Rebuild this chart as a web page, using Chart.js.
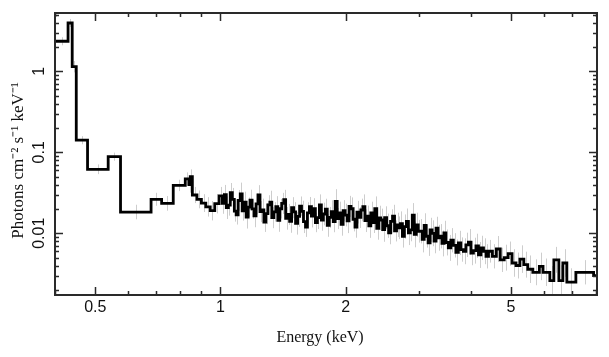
<!DOCTYPE html>
<html><head><meta charset="utf-8">
<script src="https://cdn.jsdelivr.net/npm/chart.js@4/dist/chart.umd.min.js"></script>
<style>html,body{margin:0;padding:0;background:#fff}</style>
</head><body>
<canvas id="c" width="609" height="357"></canvas>
<script>
// Bin edges in keV (lower edge of each bin, plus the final upper edge)
const binEdges = [
  0.400, 0.430, 0.440, 0.450, 0.479, 0.537, 0.575, 0.681, 0.722, 0.770,
  0.823, 0.840, 0.846, 0.856, 0.878, 0.900, 0.922, 0.945, 0.969, 0.993,
  1.011, 1.022, 1.033, 1.045, 1.056, 1.068, 1.080, 1.091, 1.103, 1.116,
  1.128, 1.140, 1.153, 1.166, 1.178, 1.191, 1.204, 1.218, 1.231, 1.245,
  1.258, 1.272, 1.286, 1.300, 1.315, 1.329, 1.344, 1.359, 1.374, 1.389,
  1.404, 1.420, 1.435, 1.451, 1.467, 1.483, 1.500, 1.516, 1.533, 1.550,
  1.567, 1.584, 1.602, 1.619, 1.637, 1.655, 1.674, 1.692, 1.711, 1.730,
  1.749, 1.768, 1.788, 1.807, 1.827, 1.847, 1.868, 1.888, 1.909, 1.930,
  1.951, 1.973, 1.995, 2.017, 2.039, 2.061, 2.084, 2.107, 2.130, 2.154,
  2.177, 2.201, 2.226, 2.250, 2.275, 2.300, 2.325, 2.351, 2.377, 2.403,
  2.429, 2.456, 2.483, 2.510, 2.538, 2.566, 2.594, 2.623, 2.652, 2.681,
  2.710, 2.740, 2.770, 2.801, 2.832, 2.863, 2.894, 2.926, 2.958, 2.991,
  3.024, 3.057, 3.091, 3.125, 3.159, 3.194, 3.229, 3.265, 3.301, 3.337,
  3.374, 3.411, 3.448, 3.486,
  3.533, 3.583, 3.633, 3.684, 3.735, 3.787, 3.840, 3.894, 3.949, 4.004,
  4.060, 4.117, 4.175, 4.233, 4.293, 4.353,
  4.414, 4.511, 4.610, 4.711, 4.815, 4.921, 5.029, 5.140, 5.253, 5.368, 5.486,
  5.642, 5.850, 5.970, 6.200, 6.339, 6.517, 6.663, 6.812, 7.161, 7.900,
  8.200
];
// Flux in photons cm^-2 s^-1 keV^-1 for each bin
const flux = [
  2.35, 3.95, 1.14, 0.141, 0.0617, 0.0883, 0.0183, 0.0263, 0.0234, 0.039,
  0.047, 0.040, 0.050, 0.0297, 0.0262, 0.0236, 0.0212, 0.0190, 0.0232, 0.0290,
  0.0235, 0.0300, 0.0207, 0.0223, 0.0317, 0.0263, 0.0188, 0.0169, 0.0254, 0.0306,
  0.0189, 0.0242, 0.0158, 0.0210, 0.0256, 0.0200, 0.0164, 0.0231, 0.0298, 0.0185,
  0.0194, 0.0137, 0.0175, 0.0224, 0.0243, 0.0156, 0.0184, 0.0213, 0.0144, 0.0201,
  0.0234, 0.0261, 0.0153, 0.0171, 0.0140, 0.0207, 0.0184, 0.0133, 0.0162, 0.0216,
  0.0187, 0.0139, 0.0119, 0.0179, 0.0213, 0.0163, 0.0201, 0.0136, 0.0156, 0.0224,
  0.0145, 0.0173, 0.0198, 0.0125, 0.0157, 0.0185, 0.0139, 0.0248, 0.0152, 0.0178,
  0.0129, 0.0190, 0.0168, 0.0142, 0.0215, 0.0201, 0.0149, 0.0119, 0.0182, 0.0157,
  0.0194, 0.0214, 0.0143, 0.0163, 0.0124, 0.0178, 0.0136, 0.0202, 0.0115, 0.0155,
  0.0146, 0.0111, 0.0156, 0.0124, 0.0101, 0.0140, 0.0163, 0.0107, 0.0127, 0.0117,
  0.0132, 0.0092, 0.0121, 0.0140, 0.0101, 0.0110, 0.0167, 0.0097, 0.0127, 0.0106,
  0.0106, 0.0084, 0.0125, 0.0092, 0.0076, 0.0110, 0.0100, 0.0080, 0.0116, 0.0088,
  0.0092, 0.0075, 0.0101, 0.0077,
  0.0066, 0.0082, 0.0071, 0.0058, 0.0076, 0.0063, 0.0060, 0.0072, 0.0078, 0.0057,
  0.0061, 0.0070, 0.0054, 0.0066, 0.0060, 0.0052,
  0.0060, 0.0052, 0.0064, 0.0047, 0.0050, 0.0056, 0.0043, 0.0040, 0.0048, 0.0041, 0.0036,
  0.0033, 0.0039, 0.0033, 0.0026, 0.0047, 0.0026, 0.0043, 0.0025, 0.0033, 0.0030
];
// Half-length of each error bar, in dex
const errDex = [
  0.05, 0.05, 0.07, 0.05, 0.06, 0.05, 0.09, 0.08, 0.09, 0.07,
  0.08, 0.10, 0.09, 0.10, 0.11, 0.11, 0.12, 0.12, 0.12, 0.11,
  0.13, 0.12, 0.14, 0.13, 0.12, 0.14, 0.13, 0.12, 0.13, 0.14,
  0.12, 0.13, 0.14, 0.12, 0.13, 0.12, 0.14, 0.13, 0.12, 0.13,
  0.14, 0.12, 0.13, 0.12, 0.14, 0.13, 0.12, 0.13, 0.14, 0.12,
  0.13, 0.12, 0.14, 0.13, 0.14, 0.13, 0.12, 0.14, 0.13, 0.12,
  0.13, 0.14, 0.12, 0.13, 0.12, 0.14, 0.13, 0.12, 0.14, 0.13,
  0.13, 0.14, 0.13, 0.14, 0.13, 0.14, 0.13, 0.15, 0.13, 0.14,
  0.14, 0.13, 0.14, 0.15, 0.13, 0.14, 0.15, 0.13, 0.14, 0.13,
  0.14, 0.15, 0.14, 0.13, 0.15, 0.14, 0.13, 0.15, 0.14, 0.15,
  0.14, 0.15, 0.14, 0.15, 0.14, 0.15, 0.14, 0.13, 0.15, 0.14,
  0.15, 0.14, 0.15, 0.16, 0.15, 0.14, 0.15, 0.16, 0.15, 0.14,
  0.15, 0.16, 0.15, 0.14, 0.16, 0.15, 0.16, 0.15, 0.14, 0.16,
  0.15, 0.16, 0.15, 0.16,
  0.16, 0.15, 0.15, 0.16, 0.15, 0.15, 0.16, 0.15, 0.16, 0.15,
  0.16, 0.15, 0.16, 0.15, 0.16, 0.15,
  0.14, 0.15, 0.16, 0.15, 0.16, 0.15, 0.17, 0.16, 0.17, 0.16, 0.17,
  0.16, 0.17, 0.17, 0.18, 0.16, 0.19, 0.17, 0.17, 0.15, 0.16
];
const xTickValues = [0.4, 0.5, 0.6, 0.7, 0.8, 0.9, 1, 2, 3, 4, 5, 6, 7, 8];
const xTickLabels = [0.5, 1, 2, 5];
const yMajorTicks = [0.01, 0.1, 1];
const yTickLabels = ['0.01', '0.1', '1'];
const yMinorTicks = [0.002, 0.003, 0.004, 0.005, 0.006, 0.007, 0.008, 0.009,
  0.02, 0.03, 0.04, 0.05, 0.06, 0.07, 0.08, 0.09,
  0.2, 0.3, 0.4, 0.5, 0.6, 0.7, 0.8, 0.9, 2, 3, 4, 5];
const xTitle = 'Energy (keV)   ';
const yTitle = 'Photons cm\u207B\u00B2 s\u207B\u00B9 keV\u207B\u00B9   ';

const nBins = Math.min(flux.length, binEdges.length - 1, errDex.length);
const stepPoints = [];
for (let i = 0; i < nBins; i++) stepPoints.push({x: binEdges[i], y: flux[i]});
stepPoints.push({x: binEdges[nBins], y: flux[nBins - 1]});

const SANS = '"Liberation Sans", Arial, Helvetica, sans-serif';
const SERIF = '"Liberation Serif", "Times New Roman", Times, serif';
const AXIS = '#2a2a2a';

const decor = {
  id: 'decor',
  beforeDatasetsDraw(chart) {
    const {ctx, chartArea: a, scales: {x, y}} = chart;
    ctx.save();
    ctx.beginPath();
    ctx.rect(a.left, a.top, a.right - a.left, a.bottom - a.top);
    ctx.clip();
    ctx.strokeStyle = '#cdcdcd';
    ctx.lineWidth = 1;
    ctx.beginPath();
    for (let i = 0; i < nBins; i++) {
      const xc = Math.round(x.getPixelForValue(Math.sqrt(binEdges[i] * binEdges[i + 1]))) + 0.5;
      const f = Math.pow(10, errDex[i]);
      ctx.moveTo(xc, y.getPixelForValue(flux[i] * f));
      ctx.lineTo(xc, y.getPixelForValue(flux[i] / f));
    }
    ctx.stroke();
    ctx.restore();
  },
  afterDraw(chart) {
    const {ctx, chartArea: a, scales: {x, y}} = chart;
    ctx.save();
    ctx.strokeStyle = AXIS;
    ctx.lineWidth = 1.5;
    ctx.beginPath();
    xTickValues.forEach(v => {
      const px = Math.round(x.getPixelForValue(v)) + 0.5;
      const len = xTickLabels.includes(v) ? 8 : 4;
      ctx.moveTo(px, a.bottom); ctx.lineTo(px, a.bottom - len);
      ctx.moveTo(px, a.top); ctx.lineTo(px, a.top + len);
    });
    yMajorTicks.forEach(v => {
      const py = Math.round(y.getPixelForValue(v)) + 0.5;
      ctx.moveTo(a.left, py); ctx.lineTo(a.left + 8, py);
      ctx.moveTo(a.right, py); ctx.lineTo(a.right - 8, py);
    });
    yMinorTicks.forEach(v => {
      const py = Math.round(y.getPixelForValue(v)) + 0.5;
      ctx.moveTo(a.left, py); ctx.lineTo(a.left + 4, py);
      ctx.moveTo(a.right, py); ctx.lineTo(a.right - 4, py);
    });
    ctx.stroke();
    ctx.lineWidth = 2;
    ctx.strokeRect(a.left, a.top, a.right - a.left, a.bottom - a.top);
    ctx.fillStyle = '#111';
    ctx.font = '16px ' + SANS;
    ctx.textAlign = 'center';
    ctx.textBaseline = 'middle';
    yMajorTicks.forEach((v, i) => {
      ctx.save();
      ctx.translate(40, y.getPixelForValue(v));
      ctx.rotate(-Math.PI / 2);
      ctx.fillText(yTickLabels[i], 0, 0);
      ctx.restore();
    });
    ctx.restore();
  }
};

new Chart(document.getElementById('c'), {
  type: 'line',
  data: {
    datasets: [{
      data: stepPoints,
      stepped: 'before',
      borderColor: '#000',
      borderWidth: 2.8,
      pointRadius: 0,
      fill: false
    }]
  },
  options: {
    responsive: false,
    animation: false,
    devicePixelRatio: 1,
    layout: {padding: {left: 0, right: 12, top: 13, bottom: 0}},
    plugins: {legend: {display: false}, tooltip: {enabled: false}},
    scales: {
      x: {
        type: 'logarithmic',
        min: 0.4, max: 8.05,
        grid: {display: false, drawTicks: false},
        border: {display: false},
        afterBuildTicks: s => { s.ticks = xTickValues.map(v => ({value: v})); },
        ticks: {
          autoSkip: false, maxRotation: 0, minRotation: 0, padding: 3,
          color: '#111', font: {family: SANS, size: 16},
          callback: v => xTickLabels.includes(v) ? String(v) : ''
        },
        title: {display: true, text: xTitle, color: '#111',
          font: {family: SERIF, size: 16}, padding: {top: 0, bottom: 10}},
        afterFit: s => { s.height = 62; }
      },
      y: {
        type: 'logarithmic',
        min: 0.00173, max: 5.25,
        grid: {display: false, drawTicks: false},
        border: {display: false},
        afterBuildTicks: s => { s.ticks = yMajorTicks.map(v => ({value: v})); },
        ticks: {display: false},
        title: {display: true, text: yTitle, color: '#111',
          font: {family: SERIF, size: 17}, padding: {top: 8, bottom: 0}},
        afterFit: s => { s.width = 55; }
      }
    }
  },
  plugins: [decor]
});
</script>
</body></html>
